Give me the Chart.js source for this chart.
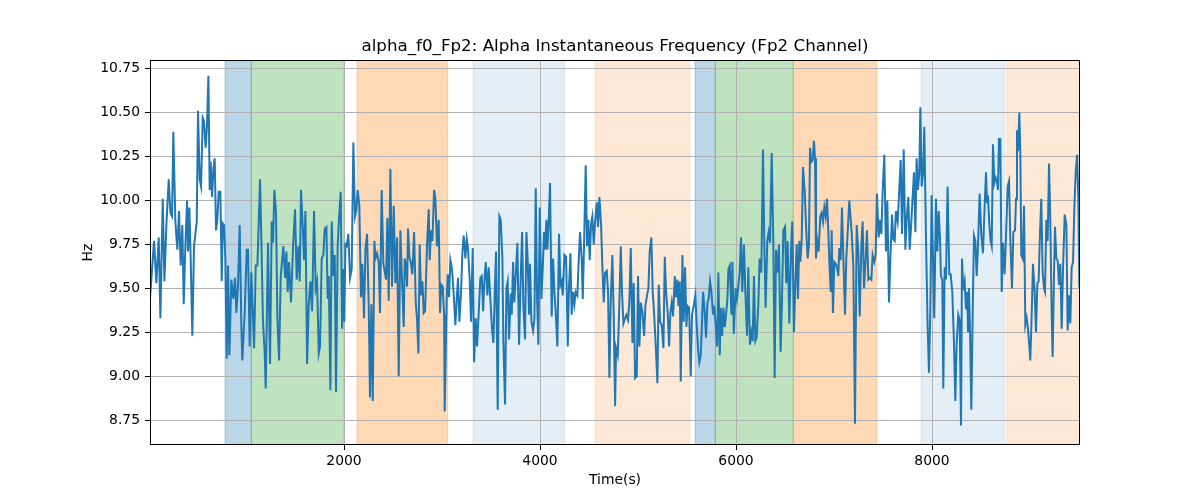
<!DOCTYPE html>
<html><head><meta charset="utf-8">
<script src="https://cdn.jsdelivr.net/npm/chart.js@4"></script>
<style>html,body{margin:0;padding:0;background:#fff}</style>
</head><body>
<canvas id="c" width="1200" height="500"></canvas>
<script>
const times = [20,61,85,109,126,150,167,187,211,228,245,258,279,299,316,333,350,364,381,398,408,422,435,452,469,497,510,527,541,558,571,588,602,616,629,639,653,667,680,694,707,721,738,752,762,775,789,803,816,830,850,871,888,901,918,935,952,962,986,1007,1020,1037,1054,1064,1082,1099,1116,1143,1156,1173,1190,1201,1224,
1245,1262,1276,1289,1306,1320,1337,1354,1381,1398,1412,1425,1439,1459,1480,1500,1517,1534,1548,1561,1578,1592,1606,1623,1640,1657,1674,1694,1711,1725,1742,1755,1772,1789,1803,1820,1833,1844,1861,1874,1891,1905,1918,1935,1949,1966,1980,1990,2003,2014,2027,2044,2061,2078,2095,2112,2126,2139,2156,2173,2187,2204,2218,2235,2252,2265,2279,2293,2310,2320,2337,2354,2367,2384,2401,
2429,2442,2456,2473,2490,2507,2524,2541,2558,2575,2592,2609,2619,2633,2643,2653,2667,2684,2697,2715,2732,2745,2759,2772,2786,2800,2813,2827,2847,2864,2874,2888,2902,2919,2932,2949,2966,2980,2993,3007,3021,3027,3048,3058,3072,3085,3102,3119,3136,3150,3163,3177,3194,3208,3221,3238,3252,3265,3282,3296,3313,3327,3344,3357,3374,3391,3405,3419,3432,3446,3463,3476,3493,3510,3524,3538,3551,3568,3585,3599,
3616,3626,3643,3657,3670,3684,3701,3711,3725,3738,3752,3769,3786,3800,3817,3830,3847,3861,3874,3888,3898,3912,3929,3943,3956,3970,3983,3997,4014,4028,4041,4051,4065,4075,4089,4102,4119,4133,4147,4160,4177,4194,4208,4221,4232,4249,4266,4283,4296,4310,4323,4337,4351,4364,4381,4395,4408,4425,4436,4449,4466,4480,4493,4507,4521,4534,4548,4561,4579,4592,4606,4623,4636,4650,4664,4681,4694,4708,4721,4738,4752,4766,4776,
4793,4807,4824,4837,4851,4868,4881,4898,4912,4926,4943,4956,4970,4987,5000,5014,5028,5045,5062,5075,5092,5106,5119,5136,5150,5164,5181,5198,5211,5225,5242,5259,5273,5286,5303,5317,5330,5344,5358,5375,5388,5402,5412,5426,5436,5453,5466,5480,5494,5504,5521,5538,5551,5568,5585,5599,5613,5626,5640,5650,5664,5681,5694,5708,5721,5735,5749,5766,5776,5793,5807,5820,5834,5844,5858,5871,5885,5898,5912,5922,5936,5953,5963,5977,
5996,6010,6023,6037,6051,6064,6081,6095,6112,6125,6142,6156,6170,6183,6197,6210,6227,6241,6258,6275,6289,6302,6319,6333,6347,6364,6381,6394,6408,6425,6438,6455,6469,6483,6500,6513,6527,6544,6561,6574,6591,6605,6619,6632,6646,6656,6670,6683,6700,6714,6731,6744,6755,6768,6782,6795,6806,6816,6829,6843,6860,6874,6887,6901,6914,6928,6942,6955,6966,6976,6989,7003,7017,7030,7044,7054,7068,7081,7095,7112,7125,7142,7156,
7180,7197,7214,7231,7248,7262,7279,7292,7306,7323,7336,7350,7367,7381,7394,7411,7425,7438,7455,7469,7483,7496,7513,7530,7544,7561,7575,7592,7605,7619,7632,7649,7663,7680,7694,7711,7728,7741,7758,7772,7789,7802,7816,7830,7843,7857,7870,7881,7894,7908,7921,7938,7955,7969,7983,7996,8010,8023,8040,8054,8068,8081,8091,8105,8115,8129,8142,8159,8176,8190,8207,8224,8238,8251,8268,8282,8296,8306,8319,8333,8347,8360,
8367,8377,8388,8401,8415,8428,8442,8456,8469,8486,8503,8520,8537,8551,8561,8571,8585,8598,8609,8622,8636,8649,8663,8673,8683,8697,8711,8724,8741,8758,8772,8786,8799,8816,8830,8847,8857,8867,8877,8891,8901,8911,8925,8939,8952,8966,8979,8993,9003,9017,9030,9047,9061,9075,9088,9102,9115,9129,9143,9153,9166,9180,9194,9207,9221,9231,9245,9255,9268,9282,9296,9309,9323,9337,9354,9371,9384,9398,9411,9425,9439,9452,9466,9480,9493,9503,9510];

const freqHz = [9.44,9.77,9.53,9.79,9.33,10.01,9.54,9.86,10.12,9.93,9.91,10.39,9.88,9.72,9.94,9.63,9.86,9.41,9.74,10.00,9.71,9.96,9.67,9.23,9.74,9.88,10.51,10.12,10.08,10.47,10.45,10.30,10.43,10.71,10.06,10.22,10.02,10.18,10.24,9.83,9.89,10.05,10.05,9.54,9.87,9.86,9.67,9.10,9.63,9.12,9.55,9.44,9.56,9.36,9.52,9.86,9.29,9.09,9.36,9.72,9.72,9.17,9.59,9.44,9.16,9.63,9.63,10.12,9.78,9.31,9.14,8.93,9.76,
9.07,9.88,9.76,10.06,9.93,9.33,9.09,9.57,9.74,9.56,9.71,9.48,9.65,9.42,9.74,9.95,9.55,9.74,9.54,10.06,9.86,9.66,9.94,9.07,9.41,9.54,9.37,9.94,9.50,9.54,9.13,9.17,9.67,9.69,9.84,9.85,9.44,9.57,8.92,9.88,9.57,9.69,8.91,9.74,9.90,10.05,9.27,9.61,9.31,9.75,9.74,9.81,9.56,9.61,10.33,9.91,9.95,10.06,9.97,9.45,9.64,9.33,9.72,9.81,9.40,8.88,9.41,8.86,9.77,9.67,9.70,9.65,9.36,10.06,9.64,
9.55,9.90,9.43,10.18,9.51,9.97,9.53,9.79,9.00,9.83,9.54,9.28,9.67,9.62,9.51,9.84,9.68,9.64,9.58,9.82,9.42,9.32,9.13,9.75,9.46,9.54,9.36,9.37,9.75,9.95,9.66,9.83,9.77,10.06,10.01,9.74,9.89,9.36,9.52,9.51,9.35,8.80,9.45,9.58,9.45,9.66,9.61,9.47,9.29,9.44,9.56,9.31,9.48,9.71,9.80,9.67,9.78,9.73,9.55,9.31,9.73,9.08,9.33,9.17,9.36,9.56,9.57,9.37,9.54,9.65,9.46,9.62,9.44,9.27,9.19,9.48,9.71,8.81,9.91,9.89,
9.67,9.19,8.84,9.50,9.54,9.21,9.47,9.35,9.65,9.42,9.57,9.76,9.18,9.50,9.82,9.40,9.21,9.82,9.67,9.35,9.64,9.31,9.26,9.33,10.07,9.44,9.18,9.96,9.44,9.62,9.82,9.72,9.89,9.72,9.89,10.10,9.34,9.67,9.48,9.36,9.17,9.81,9.52,9.54,9.46,9.69,9.68,9.17,9.51,9.70,9.35,9.48,9.41,9.48,9.46,9.66,9.82,9.67,9.44,9.74,10.20,9.74,9.89,9.66,9.87,9.91,9.75,9.87,9.99,9.85,10.02,9.86,9.63,9.42,9.59,9.60,9.48,8.99,9.42,9.69,9.34,8.83,9.16,
9.12,9.36,9.74,9.47,9.30,9.33,9.35,9.32,9.43,9.73,9.19,9.53,8.99,9.00,9.57,9.17,9.42,9.36,9.23,9.40,9.46,9.50,9.71,9.79,9.48,9.36,9.17,8.96,9.52,9.31,9.29,9.16,9.68,9.48,9.36,9.17,9.36,9.42,9.34,9.57,9.45,9.55,9.40,9.54,8.97,9.69,9.31,9.62,9.28,9.40,9.39,9.00,9.35,9.40,9.46,9.29,9.15,9.08,9.12,9.27,9.48,9.36,9.22,9.42,9.44,9.54,9.48,9.35,9.40,9.29,9.17,9.59,9.12,9.39,9.23,9.39,9.28,9.35,9.44,9.61,9.63,9.35,9.65,9.24,
9.50,9.44,9.51,9.59,9.79,9.48,9.75,9.48,9.23,9.62,9.18,9.25,9.20,9.57,9.20,9.22,9.40,9.67,9.59,10.29,9.74,9.39,9.77,9.82,9.76,10.27,9.75,8.99,9.72,9.59,9.75,9.14,9.44,9.83,9.85,9.53,9.77,9.30,9.71,9.88,9.25,9.53,9.75,9.44,9.77,9.65,9.77,10.19,10.06,9.86,9.67,9.75,10.30,10.22,10.23,10.34,10.24,9.67,9.77,9.71,9.91,9.93,9.88,9.96,9.91,10.01,9.82,9.61,9.48,9.83,9.36,9.65,9.64,9.62,9.57,9.73,9.66,9.96,9.68,9.35,9.67,9.85,10.00,
9.82,9.63,8.73,9.86,9.71,9.34,9.75,9.88,9.50,9.67,9.83,9.55,9.56,9.55,9.69,9.65,9.69,10.04,9.79,9.89,9.81,10.05,10.26,9.71,10.00,9.42,9.67,9.92,9.78,9.77,9.94,9.88,10.03,10.23,9.81,10.29,9.72,9.89,10.02,9.72,9.88,10.02,10.16,9.82,10.24,10.06,10.16,10.53,10.08,10.15,10.42,9.80,9.29,9.02,9.38,10.03,9.67,9.33,10.01,9.71,9.94,9.79,9.57,9.55,8.93,9.62,9.55,10.08,9.58,9.58,9.48,9.19,8.86,9.18,9.35,9.32,8.72,9.67,9.49,9.54,9.38,9.48,
9.25,9.50,9.25,8.81,9.36,9.80,9.77,9.57,9.74,10.04,9.80,9.70,9.97,10.16,9.99,10.03,9.86,9.77,9.74,10.32,10.10,10.13,10.11,10.06,10.35,10.35,9.48,9.76,9.58,9.85,10.08,10.11,9.78,9.50,9.82,9.83,10.01,10.40,10.28,10.50,10.27,9.69,9.67,9.97,9.29,9.33,9.27,9.17,9.09,9.35,9.64,9.48,9.25,9.53,9.54,9.82,10.01,9.59,9.50,9.48,9.89,9.77,10.21,9.89,9.35,9.11,9.59,9.85,9.67,9.66,9.52,9.64,9.27,9.62,9.92,9.86,9.26,9.46,9.30,9.62,9.65,9.95,10.16,10.26,10.01,9.53,9.54];

// shaded intervals (x units)
const spanStart = [786, 1054, 2133, 3316, 4561, 5582, 5789, 6584, 7888, 8762];
const spanEnd   = [1054, 2000, 3058, 4252, 5528, 5789, 6584, 7436, 8742, 9510];
const spanKind  = ['blue','green','orange','lightblue','lightorange','blue','green','orange','lightblue','lightorange'];

const xTicks = [2000, 4000, 6000, 8000];
const yTicks = [8.75, 9.00, 9.25, 9.50, 9.75, 10.00, 10.25, 10.50, 10.75];
const xRange = [20, 9510];
const yRange = [8.609, 10.799];

const titleText = 'alpha_f0_Fp2: Alpha Instantaneous Frequency (Fp2 Channel)';
const xLabel = 'Time(s)';
const yLabel = 'Hz';

const kindColors = {
  blue: 'rgba(31,119,180,0.3)',
  green: 'rgba(44,160,44,0.3)',
  orange: 'rgba(255,127,14,0.3)',
  lightblue: 'rgba(31,119,180,0.12)',
  lightorange: 'rgba(255,127,14,0.17)'
};

const FONT = 'DejaVu Sans';

const spanPlugin = {
  id: 'spans',
  beforeDraw(chart) {
    const {ctx, chartArea, scales} = chart;
    const xs = scales.x;
    ctx.save();
    ctx.beginPath();
    ctx.rect(chartArea.left, chartArea.top, chartArea.right - chartArea.left, chartArea.bottom - chartArea.top);
    ctx.clip();
    for (let i = 0; i < spanStart.length; i++) {
      const x0 = xs.getPixelForValue(spanStart[i]);
      const x1 = xs.getPixelForValue(spanEnd[i]);
      ctx.fillStyle = kindColors[spanKind[i]];
      ctx.fillRect(x0, chartArea.top, x1 - x0, chartArea.bottom - chartArea.top);
      ctx.strokeStyle = kindColors[spanKind[i]];
      ctx.lineWidth = 1;
      ctx.strokeRect(x0, chartArea.top, x1 - x0, chartArea.bottom - chartArea.top);
    }
    ctx.restore();
  },
  afterDraw(chart) {
    const {ctx, chartArea} = chart;
    ctx.save();
    ctx.strokeStyle = '#000';
    ctx.lineWidth = 1;
    ctx.strokeRect(Math.round(chartArea.left) + 0.5, Math.round(chartArea.top) + 0.5,
      Math.round(chartArea.right - chartArea.left) - 1, Math.round(chartArea.bottom - chartArea.top) - 1);
    ctx.restore();
  }
};

new Chart(document.getElementById('c'), {
  type: 'line',
  data: {
    datasets: [{
      data: times.map((t, i) => ({x: t, y: freqHz[i]})),
      borderColor: '#1f77b4',
      borderWidth: 2,
      pointRadius: 0,
      tension: 0,
      fill: false
    }]
  },
  options: {
    responsive: false,
    animation: false,
    devicePixelRatio: 1,
    layout: {padding: {top: 0, right: 120, left: 0, bottom: 0}},
    plugins: {
      legend: {display: false},
      tooltip: {enabled: false},
      title: {
        display: true,
        fullSize: false,
        text: titleText,
        color: '#000',
        font: {family: FONT, size: 16.7, weight: 'normal', lineHeight: 1.2},
        padding: {top: 37, bottom: 3}
      }
    },
    scales: {
      x: {
        type: 'linear',
        min: xRange[0],
        max: xRange[1],
        afterBuildTicks: (axis) => { axis.ticks = xTicks.map(v => ({value: v})); },
        afterFit: (axis) => { axis.height = 55; },
        ticks: {
          callback: (v) => String(v),
          color: '#000',
          font: {family: FONT, size: 13.9},
          padding: 3,
          maxRotation: 0,
          autoSkip: false
        },
        grid: {color: '#b0b0b0', lineWidth: 1, tickLength: 5, tickColor: '#000', tickWidth: 1},
        border: {display: false},
        title: {display: true, text: xLabel, color: '#000', font: {family: FONT, size: 13.9, lineHeight: 1.2}, padding: {top: 0, bottom: 11}}
      },
      y: {
        type: 'linear',
        min: yRange[0],
        max: yRange[1],
        afterBuildTicks: (axis) => { axis.ticks = yTicks.map(v => ({value: v})); },
        afterFit: (axis) => { axis.width = 150; },
        ticks: {
          callback: (v) => Number(v).toFixed(2),
          color: '#000',
          font: {family: FONT, size: 13.9},
          padding: 5,
          autoSkip: false
        },
        grid: {color: '#b0b0b0', lineWidth: 1, tickLength: 5, tickColor: '#000', tickWidth: 1},
        border: {display: false},
        title: {display: true, text: yLabel, color: '#000', font: {family: FONT, size: 13.9, lineHeight: 1.2}, padding: {top: 80, bottom: 0}}
      }
    }
  },
  plugins: [spanPlugin]
});
</script>
</body></html>
